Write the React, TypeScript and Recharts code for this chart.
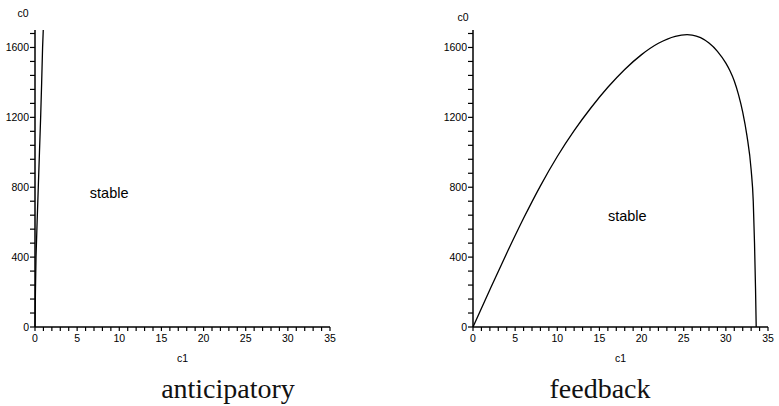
import { LineChart, Line, XAxis, YAxis, ReferenceDot, Label } from 'recharts';

// anticipatory boundary: hugs the c0 axis
const anticipatoryC1 = [0, 0.05, 0.12, 0.25, 0.39, 0.53, 0.67, 0.79, 0.9, 0.98];
const anticipatoryC0 = [0, 200, 400, 600, 800, 1000, 1200, 1400, 1600, 1700];

// feedback boundary: rises, peaks near c1=25, drops to zero near c1=33.6
const feedbackC1 = [0, 2, 4, 6, 8, 10, 12, 14, 16, 18, 20, 22, 24, 25.4, 26, 27, 28, 29, 30, 30.5, 31, 31.5, 32, 32.5, 33, 33.25, 33.4, 33.52, 33.6];
const feedbackC0 = [0, 213, 422, 622, 808, 976, 1124, 1255, 1372, 1474, 1559, 1624, 1664, 1673, 1671, 1656, 1625, 1578, 1510, 1465, 1408, 1330, 1230, 1095, 900, 720, 480, 220, 0];

const xTicks = [0, 1, 2, 3, 4, 5, 6, 7, 8, 9, 10, 11, 12, 13, 14, 15, 16, 17, 18, 19, 20, 21, 22, 23, 24, 25, 26, 27, 28, 29, 30, 31, 32, 33, 34, 35];
const xLabels = [0, 5, 10, 15, 20, 25, 30, 35];
const yTicks = [0, 80, 160, 240, 320, 400, 480, 560, 640, 720, 800, 880, 960, 1040, 1120, 1200, 1280, 1360, 1440, 1520, 1600, 1680];
const yLabels = [0, 400, 800, 1200, 1600];

const anticipatoryData = anticipatoryC1.map((c1, i) => ({ c1, c0: anticipatoryC0[i] }));
const feedbackData = feedbackC1.map((c1, i) => ({ c1, c0: feedbackC0[i] }));

const sans = 'Liberation Sans, Arial, sans-serif';

const XTick = (props: any) => {
  const { x, y, payload } = props;
  if (!xLabels.includes(payload.value)) return null;
  return (
    <text x={x} y={y} dy="0.71em" textAnchor="middle" fontSize={10.5} fontFamily={sans} fill="#000">
      {payload.value}
    </text>
  );
};

const YTick = (props: any) => {
  const { x, y, payload } = props;
  if (!yLabels.includes(payload.value)) return null;
  return (
    <text x={x} y={y} dy="0.35em" textAnchor="end" fontSize={10.5} fontFamily={sans} fill="#000">
      {payload.value}
    </text>
  );
};

function Panel({ data, marginLeft, marginRight, stableAt, c0Dx, c0Dy, curve }: any) {
  return (
    <LineChart
      width={marginLeft + 35 + 298 + marginRight - 3}
      height={406}
      data={data}
      margin={{ top: 30, right: marginRight, bottom: 49, left: marginLeft }}
    >
      <XAxis
        type="number"
        dataKey="c1"
        domain={[0, 35]}
        ticks={xTicks}
        interval={0}
        tick={XTick}
        tickSize={4}
        tickMargin={4}
        height={30}
        stroke="#000"
        axisLine={{ stroke: '#000', strokeWidth: 1.5 }}
        tickLine={{ stroke: '#000', strokeWidth: 1.2 }}
      >
        <Label value="c1" position="bottom" offset={-2} fontSize={10.5} fontFamily={sans} fill="#000" />
      </XAxis>
      <YAxis
        type="number"
        dataKey="c0"
        domain={[0, 1700]}
        allowDataOverflow
        ticks={yTicks}
        interval={0}
        tick={YTick}
        tickSize={5}
        tickMargin={1}
        width={35}
        stroke="#000"
        axisLine={{ stroke: '#000', strokeWidth: 1.5 }}
        tickLine={{ stroke: '#000', strokeWidth: 1.2 }}
        label={{
          content: (p: any) => {
            const vb = p.viewBox || {};
            return (
              <text
                x={(vb.x || 0) + (vb.width || 0) - c0Dx}
                y={(vb.y || 0) - c0Dy}
                textAnchor="middle"
                dy="0.35em"
                fontSize={10.5}
                fontFamily={sans}
                fill="#000"
              >
                c0
              </text>
            );
          },
        }}
      />
      <ReferenceDot x={stableAt[0]} y={stableAt[1]} r={0} fill="none" stroke="none">
        <Label value="stable" position="center" fontSize={14.5} fontFamily={sans} fill="#000" />
      </ReferenceDot>
      <Line
        type={curve}
        dataKey="c0"
        stroke="#000"
        strokeWidth={1.3}
        dot={false}
        isAnimationActive={false}
      />
    </LineChart>
  );
}

const captionStyle: any = {
  position: 'absolute',
  top: 375,
  width: 220,
  textAlign: 'center',
  fontFamily: 'Liberation Serif, Times New Roman, serif',
  fontSize: 28,
  lineHeight: '28px',
  color: '#111',
};

export default function App() {
  return (
    <div style={{ position: 'absolute', left: 0, top: 0, width: 779, height: 406, background: '#fff', overflow: 'hidden' }}>
      <div style={{ position: 'absolute', left: 0, top: 0 }}>
        <Panel data={anticipatoryData} marginLeft={0} marginRight={57} stableAt={[8.8, 766]} c0Dx={12} c0Dy={17} curve="linear" />
      </div>
      <div style={{ position: 'absolute', left: 390, top: 0 }}>
        <Panel data={feedbackData} marginLeft={48} marginRight={10} stableAt={[18.3, 638]} c0Dx={10} c0Dy={13} curve="monotone" />
      </div>
      <div style={{ ...captionStyle, left: 228 - 110 }}>anticipatory</div>
      <div style={{ ...captionStyle, left: 600 - 110 }}>feedback</div>
    </div>
  );
}
